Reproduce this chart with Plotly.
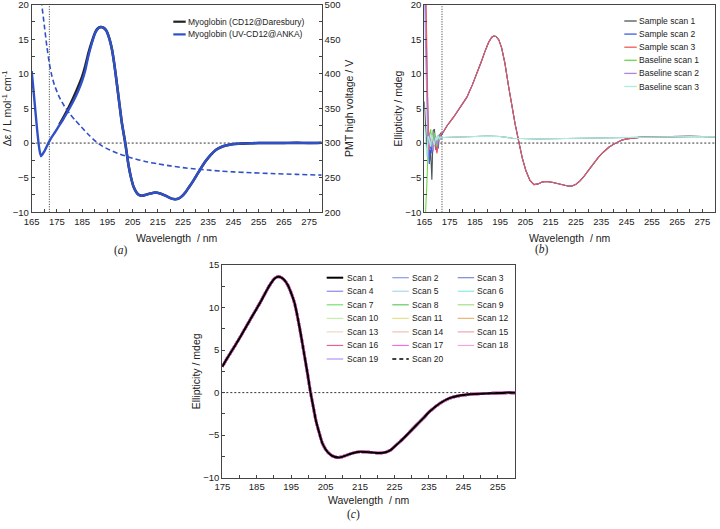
import plotly.graph_objects as go

W, H = 720, 529

# ---------------- Panel (a): Myoglobin, delta-epsilon and PMT HV ----------------
wl_anka = [165, 166, 167, 168, 168.7, 170, 171.6, 173, 174.3, 176, 177.6, 179.5, 181.6, 183.5, 185,
           186.3, 187.5, 189, 190.2, 191.2, 192.2, 193.3, 194.5, 195.7, 196.8, 197.8, 198.8, 199.8,
           200.8, 202.1, 203.4, 204.4, 205.4, 206.5, 207.5, 208.7, 210, 212, 214, 216, 218, 220,
           221.5, 223, 224.5, 226, 227.5, 229, 230.5, 232, 234, 236, 238, 240, 242, 244, 247, 250,
           255, 260, 265, 270, 275, 280]
de_anka = [10.4, 6.5, 2.5, -0.8, -1.9, -1.2, 0.0, 0.9, 1.6, 2.6, 3.5, 4.7, 6.1, 7.6, 9.0,
           10.6, 12.6, 14.6, 15.9, 16.5, 16.75, 16.7, 16.3, 15.2, 13.6, 11.3, 8.5, 5.6,
           2.8, 0.0, -3.2, -5.0, -6.3, -7.1, -7.5, -7.6, -7.5, -7.3, -7.15, -7.3, -7.6, -7.95,
           -8.1, -8.05, -7.7, -7.1, -6.3, -5.5, -4.6, -3.7, -2.6, -1.7, -1.0, -0.6, -0.35, -0.2, -0.1, -0.05,
           0.02, 0.0, 0.02, 0.05, 0.02, 0.03]

wl_dares = [176, 177.6, 179.5, 181.6, 183.5, 185, 186.3, 187.5, 189, 190.2, 191.2, 192.2, 193.3, 194.5,
            195.7, 196.8, 197.8, 198.8, 199.8, 200.8, 202.1, 203.4, 204.4, 205.4, 206.5, 207.5, 208.7,
            210, 212, 214, 216, 218, 220, 221.5, 223, 224.5, 226, 227.5, 229, 230.5, 232, 234, 236,
            238, 240, 242, 244, 247, 250, 255, 260, 265, 270, 275, 280]
de_dares = [2.7, 3.7, 5.0, 6.6, 8.2, 9.6, 11.2, 13.0, 14.8, 16.0, 16.55, 16.75, 16.7, 16.3,
            15.2, 13.6, 11.3, 8.5, 5.6, 2.8, 0.0, -3.2, -5.0, -6.3, -7.1, -7.5, -7.6,
            -7.5, -7.3, -7.15, -7.3, -7.6, -7.95, -8.1, -8.05, -7.7, -7.1, -6.3, -5.5, -4.6, -3.7, -2.6, -1.7,
            -1.0, -0.6, -0.35, -0.2, -0.1, -0.05, 0.0, 0.02, 0.0, 0.03, 0.0, 0.05]

wl_hv = [165, 166, 167, 168, 169, 170, 171, 172, 173, 174, 176, 178, 180, 182, 184, 186, 188, 190.5,
         193, 196, 200, 205, 210, 215, 220, 225, 230, 235, 240, 245, 250, 260, 270, 280]
hv_volts = [690, 625, 575, 535, 500, 470, 440, 415, 397, 384, 366, 353, 343, 334, 326, 318, 310.5, 302,
            295.5, 290, 284, 278, 273.5, 270, 267, 264.5, 262.5, 261, 259.5, 258.4, 257.5, 256, 254.8, 253.7]

legend_a_names = ["Myoglobin (CD12@Daresbury)", "Myoglobin (UV-CD12@ANKA)"]
legend_a_colors = ["#222222", "#3050c8"]

# ---------------- Panel (b): raw sample / baseline scans ----------------
wl_b_head = [165, 165.5, 166, 166.5, 167, 167.5, 168, 168.5, 169, 169.5, 170, 170.5, 171, 171.5, 172]
sample1_head = [6, 3, -1, 1.5, -3, -1, -5.3, 1.8, 2.0, -0.5, -1.2, 0.5, 1.2, 0.8, 1.4]
sample2_head = [25, 22, 10, 2, -3, 0.5, -1.5, 0.0, 0.8, -1.0, 0.5, -0.8, 1.0, 1.5, 1.2]
sample3_head = [25, 24, 14, 3, -1, 0.5, 1.0, -0.8, 0.5, -0.3, -1.5, 0.2, 0.8, 1.2, 1.5]
baseline1_head = [-12, -10, -6, -1, 1.0, 2.0, 0.5, -1.0, 1.5, 0.5, -0.5, 1.2, 0.4, 0.8, 0.7]
baseline2_head = [22, 14, 4, -2, 1.5, -0.5, 0.8, -1.2, 0.3, 1.0, -0.2, 0.6, 1.1, 0.6, 0.8]
baseline3_head = [3, 1, -2, 1, 0.5, -0.5, 1.2, 0.3, -0.3, 0.8, 0.4, 1.0, 0.6, 0.9, 0.8]

wl_b_sample = [172.5, 174, 176.5, 179, 181.8, 184, 185.7, 187.5, 189, 190.5, 191.7, 192.5, 193.4, 194.5,
               195.6, 196.9, 198.2, 199.5, 200.9, 202.5, 203.8, 205.2, 206.8, 208.4, 210, 211.8, 213.4,
               215.5, 218, 220, 221.8, 223.5, 225, 226.5, 228, 230, 232, 234, 236, 238, 240, 241.5,
               243, 245, 247.5, 250, 255, 260, 265, 270, 275, 280]
sample_body = [1.6, 2.5, 3.7, 5.1, 6.6, 8.4, 9.9, 11.7, 13.25, 14.6, 15.3, 15.45, 15.4, 14.9,
               13.75, 11.5, 8.5, 5.6, 2.8, 0.0, -2.2, -4.0, -5.4, -6.0, -5.9, -5.6, -5.55,
               -5.65, -5.85, -6.05, -6.2, -6.2, -5.95, -5.5, -4.9, -3.9, -2.9, -2.0, -1.25, -0.6, -0.15, 0.15,
               0.4, 0.6, 0.72, 0.82, 0.9, 0.95, 0.98, 0.97, 0.95, 0.92]

wl_b_base = [172.5, 175, 180, 185, 190, 195, 200, 205, 210, 215, 220, 230, 240, 250, 260, 270, 280]
baseline_body = [0.8, 0.85, 0.85, 0.95, 1.0, 0.95, 0.7, 0.6, 0.6, 0.62, 0.65, 0.7, 0.75, 0.85, 0.95, 0.95, 0.9]

legend_b_names = ["Sample scan 1", "Sample scan 2", "Sample scan 3",
                  "Baseline scan 1", "Baseline scan 2", "Baseline scan 3"]
legend_b_colors = ["#4a5555", "#3d5ee6", "#f05a55", "#6ad84a", "#a888de", "#a8eedc"]

# ---------------- Panel (c): 20 repeated scans ----------------
wl_c = [175, 176.5, 178.5, 180, 182, 184, 186.3, 188, 189.2, 190.2, 191.1, 192, 193, 194, 195, 196, 197,
        197.9, 198.8, 199.8, 200.5, 201.2, 202.2, 203.2, 204.1, 205.6, 207, 208.7, 210.5, 212.5, 215,
        217.5, 220.8, 222.5, 223.7, 225, 226.6, 229, 231.4, 233.5, 235.3, 238.2, 241, 244, 247, 250,
        253, 256, 258, 260]
ellip_c = [3.06, 4.1, 5.4, 6.4, 7.8, 9.2, 10.8, 12.1, 12.9, 13.4, 13.63, 13.55, 13.25, 12.65, 11.7, 10.5, 8.6,
           6.6, 4.5, 2.1, 0.3, -1.2, -3.3, -4.8, -6.0, -7.0, -7.45, -7.64, -7.45, -7.15, -6.95,
           -7.0, -7.1, -7.0, -6.8, -6.35, -5.76, -4.8, -3.8, -2.95, -2.2, -1.25, -0.65, -0.35, -0.2, -0.12,
           -0.08, -0.05, 0.0, -0.02]

scan_names = ["Scan %d" % i for i in range(1, 21)]
scan_colors = ["#000000", "#8a9ae0", "#7a8ad0", "#8c86ea", "#a8d8f0", "#8aeaea",
               "#72e072", "#60cc60", "#a6dc86", "#c8eca8", "#e4e08a", "#e8b474",
               "#f2d4c4", "#f0c0b0", "#f0a4b4", "#e06494", "#f070e0", "#f0a6e0",
               "#b294f0", "#000000"]

CUTOFF_NM = 172

FONT = "Liberation Sans, Arial, sans-serif"
AXC = "#444444"
TXT = "#222222"


def px(x):
    return x / W


def py(y):
    return 1 - y / H


fig = go.Figure()

# Panel a traces
fig.add_trace(go.Scatter(x=wl_dares, y=de_dares, mode="lines", name=legend_a_names[0],
                         line=dict(color=legend_a_colors[0], width=2.6, shape="spline", smoothing=0.6),
                         xaxis="x", yaxis="y", showlegend=False))
fig.add_trace(go.Scatter(x=wl_anka, y=de_anka, mode="lines", name=legend_a_names[1],
                         line=dict(color=legend_a_colors[1], width=2.4, shape="spline", smoothing=0.6),
                         xaxis="x", yaxis="y", showlegend=False))
fig.add_trace(go.Scatter(x=wl_hv, y=hv_volts, mode="lines", name="PMT high voltage",
                         line=dict(color=legend_a_colors[1], width=1.6, dash="5px,3px", shape="spline", smoothing=0.6),
                         xaxis="x", yaxis="y2", showlegend=False))

# Panel b traces
heads = [sample1_head, sample2_head, sample3_head, baseline1_head, baseline2_head, baseline3_head]
for i, (nm, col, head) in enumerate(zip(legend_b_names, legend_b_colors, heads)):
    if i < 3:
        xs = wl_b_head + wl_b_sample
        ys = head + sample_body
    else:
        xs = wl_b_head + wl_b_base
        ys = head + baseline_body
    fig.add_trace(go.Scatter(x=xs, y=ys, mode="lines", name=nm,
                             line=dict(color=col, width=1.1),
                             xaxis="x2", yaxis="y3", showlegend=False))

# Panel c traces (colored scans underneath, black scans on top)
draw_order = list(range(1, 16)) + [18, 17, 15, 16]
for i in draw_order:
    fig.add_trace(go.Scatter(x=wl_c, y=ellip_c, mode="lines", name=scan_names[i],
                             line=dict(color=scan_colors[i], width=2.7, shape="spline", smoothing=0.6),
                             xaxis="x3", yaxis="y4", showlegend=False))
fig.add_trace(go.Scatter(x=wl_c, y=ellip_c, mode="lines", name=scan_names[0],
                         line=dict(color=scan_colors[0], width=2.0, shape="spline", smoothing=0.6),
                         xaxis="x3", yaxis="y4", showlegend=False))
fig.add_trace(go.Scatter(x=wl_c, y=ellip_c, mode="lines", name=scan_names[19],
                         line=dict(color=scan_colors[19], width=1.5, dash="4px,3px", shape="spline", smoothing=0.6),
                         xaxis="x3", yaxis="y4", showlegend=False))

# ---------------- Axes ----------------
tickfont = dict(family=FONT, size=9.5, color=TXT)
titlefont = dict(family=FONT, size=10.5, color=TXT)


def xax(domain, rng, tick0, anchor, standoff):
    return dict(domain=domain, range=rng, anchor=anchor, tick0=tick0, dtick=10,
                ticks="inside", ticklen=3, tickcolor=AXC, showline=True, linecolor=AXC, linewidth=1,
                mirror=True, showgrid=False, zeroline=False, tickfont=tickfont, ticklabeloverflow="allow",
                minor=dict(tick0=tick0, dtick=5, ticks="inside", ticklen=3, tickcolor=AXC, showgrid=False),
                title=dict(text="Wavelength \u00a0/ nm", font=titlefont, standoff=standoff))


def yax(domain, rng, anchor, title, standoff):
    return dict(domain=domain, range=rng, anchor=anchor, tick0=0, dtick=5,
                ticks="inside", ticklen=3, tickcolor=AXC, showline=True, linecolor=AXC, linewidth=1,
                mirror=True, showgrid=False, zeroline=False, tickfont=tickfont, ticklabeloverflow="allow",
                minor=dict(tick0=0, dtick=2.5, ticks="inside", ticklen=3, tickcolor=AXC, showgrid=False),
                title=dict(text=title, font=titlefont, standoff=standoff))


ydom_top = [py(212.3), py(4.6)]
ydom_c = [py(477.7), py(265)]

fig.update_layout(
    xaxis=xax([px(31.7), px(321.7)], [165, 280], 165, "y", 8),
    yaxis=yax(ydom_top, [-10, 20], "x", "\u0394\u03b5 / L mol<sup>-1</sup> cm<sup>-1</sup>", 0),
    yaxis2=dict(overlaying="y", side="right", anchor="x", range=[200, 500], tick0=200, dtick=50,
                ticks="inside", ticklen=3, tickcolor=AXC, showline=True, linecolor=AXC, linewidth=1,
                showgrid=False, zeroline=False, tickfont=tickfont, ticklabeloverflow="allow",
                minor=dict(tick0=200, dtick=25, ticks="inside", ticklen=3, tickcolor=AXC, showgrid=False),
                title=dict(text="PMT high voltage / V", font=titlefont, standoff=6)),
    xaxis2=xax([px(424.3), px(715)], [165, 280], 165, "y3", 8),
    yaxis3=yax(ydom_top, [-10, 20], "x2", "Ellipticity / mdeg", 0),
    xaxis3=xax([px(222.3), px(515)], [175, 260], 175, "y4", 5),
    yaxis4=yax(ydom_c, [-10, 15], "x3", "Ellipticity / mdeg", 0),
)

# reference lines: zero lines and cut-off wavelength
for xr, yr in [("x", "y"), ("x2", "y3"), ("x3", "y4")]:
    fig.add_shape(type="line", xref=xr + " domain", x0=0, x1=1, yref=yr, y0=0, y1=0,
                  line=dict(color="#333333", width=1, dash="2px,2px"), layer="below")
for xr, yr in [("x", "y"), ("x2", "y3")]:
    fig.add_shape(type="line", xref=xr, x0=CUTOFF_NM, x1=CUTOFF_NM, yref=yr + " domain", y0=0, y1=1,
                  line=dict(color="#333333", width=1, dash="1px,1.5px"), layer="below")

# ---------------- Legends (drawn as keys + text) ----------------
legfont = dict(family=FONT, size=8.5, color=TXT)


def legend_item(x_key0, x_key1, x_text, y, name, color, width, dash=None):
    fig.add_shape(type="line", xref="paper", yref="paper", x0=px(x_key0), x1=px(x_key1), y0=py(y), y1=py(y),
                  line=dict(color=color, width=width, dash=dash))
    fig.add_annotation(xref="paper", yref="paper", x=px(x_text), y=py(y), text=name, showarrow=False,
                       xanchor="left", yanchor="middle", font=legfont)


for k, (nm, col) in enumerate(zip(legend_a_names, legend_a_colors)):
    legend_item(173.3, 185.7, 186.2, 21.7 + 12.7 * k, nm, col, 2.2)

for k, (nm, col) in enumerate(zip(legend_b_names, legend_b_colors)):
    legend_item(624.3, 636.7, 637.0, 21.0 + 13.1 * k, nm, col, 1.3)

col_key = [326.7, 392.3, 457.7]
col_txt = [344.5, 410.2, 474.8]
for k, (nm, col) in enumerate(zip(scan_names, scan_colors)):
    r, c = divmod(k, 3)
    w = 2.0 if k == 0 else (1.6 if k == 19 else 1.2)
    d = "4px,3px" if k == 19 else None
    legend_item(col_key[c], col_key[c] + 16.5, col_txt[c], 277.7 + 13.55 * r, nm, col, w, d)

# ---------------- Panel captions ----------------
capfont = dict(family="Liberation Serif, Times New Roman, serif", size=11.5, color=TXT)
for lab, (cx, cy) in zip(["a", "b", "c"], [(120.7, 250), (542, 249.5), (353.3, 514.5)]):
    fig.add_annotation(xref="paper", yref="paper", x=px(cx), y=py(cy), text="(<i>%s</i>)" % lab,
                       showarrow=False, xanchor="center", yanchor="middle", font=capfont)

fig.update_layout(width=W, height=H, margin=dict(l=0, r=0, t=0, b=0), template="none",
                  paper_bgcolor="white", plot_bgcolor="rgba(0,0,0,0)", showlegend=False,
                  font=dict(family=FONT, color=TXT))

fig.write_html("out.html", config={"displayModeBar": False},
               post_script="document.body.style.margin='0px';document.body.style.overflow='hidden';")
